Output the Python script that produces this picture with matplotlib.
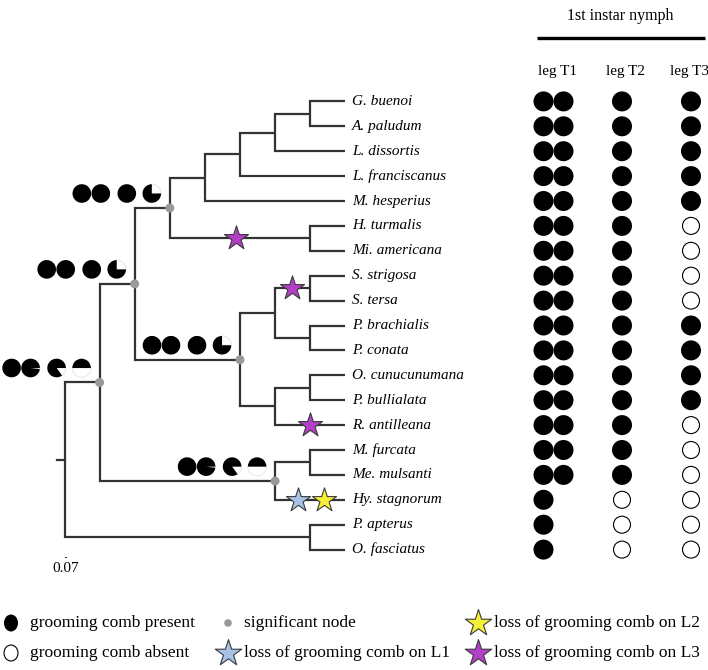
import matplotlib
matplotlib.use("Agg")
import matplotlib.pyplot as plt
from matplotlib.patches import Wedge, Circle, Ellipse

# ---------------- data ----------------
taxa = ["G. buenoi", "A. paludum", "L. dissortis", "L. franciscanus", "M. hesperius",
        "H. turmalis", "Mi. americana", "S. strigosa", "S. tersa", "P. brachialis",
        "P. conata", "O. cunucunumana", "P. bullialata", "R. antilleana", "M. furcata",
        "Me. mulsanti", "Hy. stagnorum", "P. apterus", "O. fasciatus"]

# internal node -> (depth level, [children])
clades = {
    "root":     (0, ["ingroup", "outgroup"]),
    "ingroup":  (1, ["gerro", "nepo"]),
    "gerro":    (2, ["gU", "gL"]),
    "gU":       (3, ["g4", "HMi"]),
    "g4":       (4, ["g5", "M. hesperius"]),
    "g5":       (5, ["g6", "L. franciscanus"]),
    "g6":       (6, ["GA", "L. dissortis"]),
    "GA":       (7, ["G. buenoi", "A. paludum"]),
    "HMi":      (7, ["H. turmalis", "Mi. americana"]),
    "gL":       (5, ["gL1", "gL2"]),
    "gL1":      (6, ["SS", "PP"]),
    "SS":       (7, ["S. strigosa", "S. tersa"]),
    "PP":       (7, ["P. brachialis", "P. conata"]),
    "gL2":      (6, ["OP", "R. antilleana"]),
    "OP":       (7, ["O. cunucunumana", "P. bullialata"]),
    "nepo":     (6, ["MM", "Hy. stagnorum"]),
    "MM":       (7, ["M. furcata", "Me. mulsanti"]),
    "outgroup": (7, ["P. apterus", "O. fasciatus"]),
}
tip_depth = 8
significant_nodes = ["ingroup", "gerro", "gU", "gL", "nepo"]

# ancestral probability that comb is present: leg T1 (comb a, comb b), T2, T3
ancestral_present = {
    "gU":      [1.0, 1.0, 1.0, 0.75],
    "gerro":   [1.0, 1.0, 1.0, 0.75],
    "gL":      [1.0, 1.0, 1.0, 0.75],
    "ingroup": [1.0, 0.98, 0.85, 0.5],
    "nepo":    [1.0, 0.98, 0.85, 0.5],
}

leg_T1_combs = [2, 2, 2, 2, 2, 2, 2, 2, 2, 2, 2, 2, 2, 2, 2, 2, 1, 1, 1]
leg_T2 = [1, 1, 1, 1, 1, 1, 1, 1, 1, 1, 1, 1, 1, 1, 1, 1, 0, 0, 0]
leg_T3 = [1, 1, 1, 1, 1, 0, 0, 0, 0, 1, 1, 1, 1, 0, 0, 0, 0, 0, 0]

# loss events: (branch leading to node/taxon, leg, fraction along branch)
loss_events = [("HMi", "L3", 0.47), ("SS", "L3", 0.49), ("R. antilleana", "L3", 0.5),
               ("Hy. stagnorum", "L1", 0.33), ("Hy. stagnorum", "L2", 0.69)]
scale_label = "0.07"

# ---------------- layout / style ----------------
X0, XSTEP = 64.5, 35.1
Y0, DY = 101.4, 24.9
LINE_C = "#333333"
LW = 1.6
GRAY = "#999999"
STAR_C = {"L1": "#a8c2e6", "L2": "#f6ef38", "L3": "#b33fc6"}
SERIF = "Liberation Serif"
FS = 11
PIE_DX = [-88, -69, -43, -18]
PIE_DY = -14.5
PIE_R = 9.3
PIE_START = {"gU": [0, 0, 0, 90], "gerro": [0, 0, 0, 90], "gL": [0, 0, 0, 90],
             "ingroup": [0, 0, 0, 0], "nepo": [0, 0, 0, 0]}
COL_T1 = [543.5, 563.5]
COL_T2 = 622
COL_T3 = 691
DOT_R = 10

fig = plt.figure(figsize=(7.08, 6.70), dpi=100)
ax = fig.add_axes([0, 0, 1, 1])
ax.set_xlim(0, 708)
ax.set_ylim(670, 0)
ax.axis("off")

# ---------- compute positions ----------
row = {t: i for i, t in enumerate(taxa)}
depth = {t: tip_depth for t in taxa}
parent = {}


def place(n):
    if n in row:
        return row[n]
    d, ch = clades[n]
    depth[n] = d
    rs = [place(c) for c in ch]
    for c in ch:
        parent[c] = n
    row[n] = (min(rs) + max(rs)) / 2.0
    return row[n]


place("root")


def X(n):
    return X0 + XSTEP * depth[n]


def Y(n):
    return Y0 + DY * row[n]


# ---------- tree ----------
for n, (d, ch) in clades.items():
    c0, c1 = ch[0], ch[-1]
    ax.plot([X(c0), X(n), X(n), X(c1)], [Y(c0), Y(c0), Y(c1), Y(c1)],
            color=LINE_C, lw=LW, solid_joinstyle="miter", solid_capstyle="butt", zorder=2)
ax.plot([X("root") - 7.5, X("root")], [Y("root"), Y("root")], color=LINE_C, lw=LW, zorder=2)

for t in taxa:
    ax.text(X(t) + 6.5, Y(t), t, fontsize=FS, family=SERIF, style="italic",
            ha="left", va="center")

for n in significant_nodes:
    ax.add_patch(Circle((X(n), Y(n)), 4.5, color=GRAY, zorder=4, lw=0))

# ---------- ancestral pies ----------
for n, probs in ancestral_present.items():
    cy = Y(n) + PIE_DY
    for k, p in enumerate(probs):
        cx = X(n) + PIE_DX[k]
        a0 = PIE_START[n][k]
        a1 = a0 + p * 360
        # screen ccw angles -> data angles (y inverted)
        if p < 1:
            ax.add_patch(Wedge((cx, cy), PIE_R, -(a0 + 360), -a1, facecolor="white",
                               edgecolor="#dddddd", lw=0.5, zorder=3))
        ax.add_patch(Wedge((cx, cy), PIE_R, -a1, -a0, facecolor="black",
                           edgecolor="none", lw=0, zorder=3))

# ---------- loss events ----------
for node, leg, f in loss_events:
    x0 = X(parent[node])
    x1 = X(node)
    ax.scatter([x0 + f * (x1 - x0)], [Y(node)], s=330, marker="*", color=STAR_C[leg],
               edgecolors="#3a3a3a", linewidths=0.8, zorder=5)

# ---------- trait columns ----------
ax.text(620, 16, "1st instar nymph", fontsize=11.5, family=SERIF, ha="center", va="center")
ax.plot([537, 705], [38, 38], color="black", lw=2.4, solid_capstyle="butt")
for lab, xc in [("leg T1", 557), ("leg T2", 626), ("leg T3", 690)]:
    ax.text(xc, 71, lab, fontsize=FS, family=SERIF, ha="center", va="center")


def dot(x, y, present):
    if present:
        ax.add_patch(Circle((x, y), DOT_R, facecolor="black", edgecolor="none", zorder=3))
    else:
        ax.add_patch(Circle((x, y), DOT_R * 0.85, facecolor="white", edgecolor="black",
                            lw=0.8, zorder=3))


for i, t in enumerate(taxa):
    y = Y(t)
    for k in range(leg_T1_combs[i]):
        dot(COL_T1[k], y, True)
    dot(COL_T2, y, leg_T2[i])
    dot(COL_T3, y, leg_T3[i])

# ---------- scale ----------
ax.plot([64.5, 66], [557, 557], color=LINE_C, lw=0.8)
ax.text(66, 568, scale_label, fontsize=FS, family=SERIF, ha="center", va="center")

# ---------- legend ----------
LY1, LY2 = 623, 653
LFS = 12.5
ax.add_patch(Ellipse((11, LY1), 14, 17, facecolor="black", edgecolor="none"))
ax.text(30, LY1, "grooming comb present", fontsize=LFS, family=SERIF, va="center")
ax.add_patch(Ellipse((11, LY2), 14, 16, facecolor="white", edgecolor="black", lw=0.8))
ax.text(30, LY2, "grooming comb absent", fontsize=LFS, family=SERIF, va="center")
ax.add_patch(Circle((228, LY1), 3.8, color=GRAY, lw=0))
ax.text(244, LY1, "significant node", fontsize=LFS, family=SERIF, va="center")
ax.scatter([228], [LY2], s=400, marker="*", color=STAR_C["L1"], edgecolors="#3a3a3a",
           linewidths=0.8)
ax.text(244, LY2, "loss of grooming comb on L1", fontsize=LFS, family=SERIF, va="center")
ax.scatter([478], [LY1], s=400, marker="*", color=STAR_C["L2"], edgecolors="#3a3a3a",
           linewidths=0.8)
ax.text(494, LY1, "loss of grooming comb on L2", fontsize=LFS, family=SERIF, va="center")
ax.scatter([478], [LY2], s=400, marker="*", color=STAR_C["L3"], edgecolors="#3a3a3a",
           linewidths=0.8)
ax.text(494, LY2, "loss of grooming comb on L3", fontsize=LFS, family=SERIF, va="center")

fig.savefig("out.png", dpi=100)
